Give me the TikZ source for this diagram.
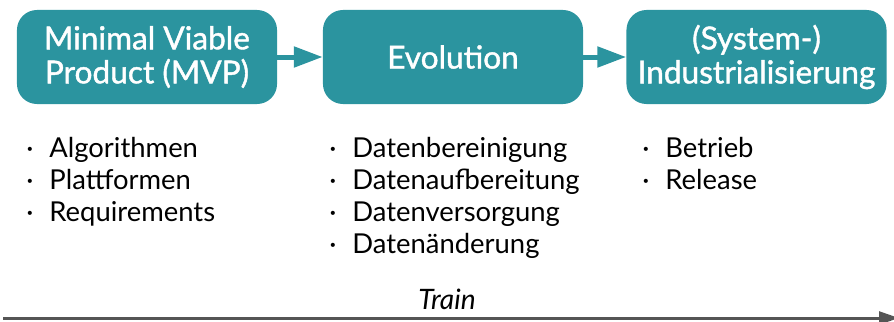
\documentclass[tikz,border=0pt]{standalone}
\usepackage{fontspec}
\setmainfont{Lato}
\newfontfamily\phasefont[AutoFakeBold=1.3]{Lato}
\usetikzlibrary{positioning,arrows.meta}
\definecolor{phaseteal}{HTML}{2B949F}
\definecolor{timegray}{HTML}{555555}

\begin{document}
\begin{tikzpicture}[x=0.025cm, y=-0.025cm,
    phase/.style={fill=phaseteal, rounded corners=0.5cm, minimum width=6.5cm, minimum height=2.35cm,
      text=white, align=center, font=\fontsize{22.5}{24.2}\phasefont\bfseries},
    flow/.style={-{Triangle[length=0.72cm, width=0.5cm]}, line width=0.125cm, phaseteal},
    items/.style={anchor=north west, align=left, inner sep=0pt, font=\fontsize{19.5}{22.8}\selectfont},
    timeline/.style={-{Triangle[length=0.5cm, width=0.32cm]}, line width=0.075cm, timegray}]
    \useasboundingbox (0,0) rectangle (894,322);

    \node[phase] (mvp) at (147,57) {Minimal Viable\\Product (MVP)};
    \node[phase] (evo) at (453,57) {Evolution};
    \node[phase] (ind) at (756.5,57) {(System-)\\Industrialisierung};

    \draw[flow] (mvp) -- (evo);
    \draw[flow] (evo) -- (ind);

    \node[items] (mvplist) at (26,137) {·\hspace{0.4cm}Algorithmen\\·\hspace{0.4cm}Plattformen\\·\hspace{0.4cm}Requirements};
    \node[items] (evolist) at (329,137) {·\hspace{0.4cm}Datenbereinigung\\·\hspace{0.4cm}Datenaufbereitung\\·\hspace{0.4cm}Datenversorgung\\·\hspace{0.4cm}Datenänderung};
    \node[items] (indlist) at (642,137) {·\hspace{0.4cm}Betrieb\\·\hspace{0.4cm}Release};

    \coordinate (tstart) at (3,318);
    \coordinate (tend) at (899,318);
    \draw[timeline] (tstart) -- (tend);
    \node[font=\fontsize{20}{22}\selectfont\itshape] (train) at (447,299) {Train};
  \end{tikzpicture}
\end{document}
